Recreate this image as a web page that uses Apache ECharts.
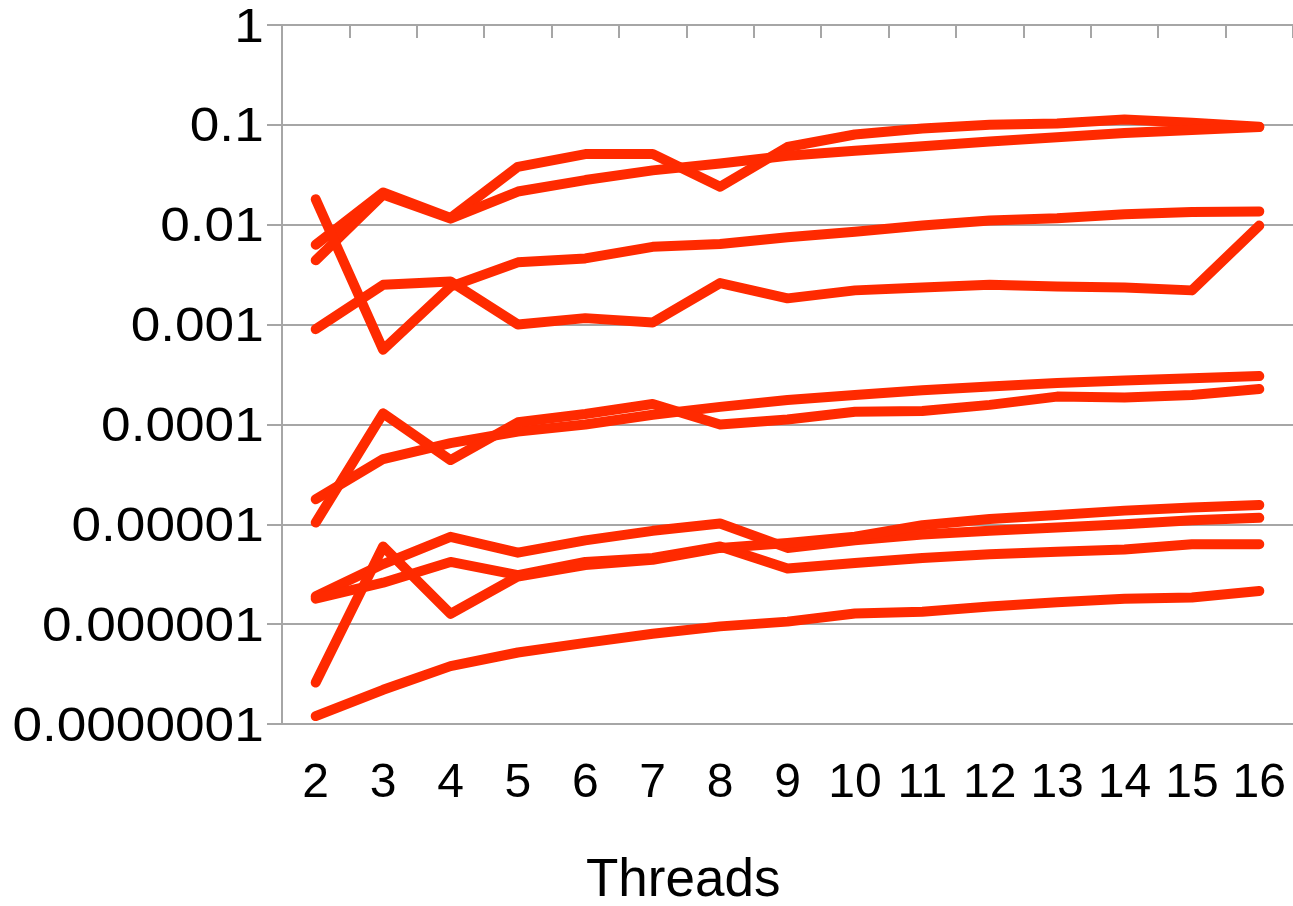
<!DOCTYPE html>
<html>
<head>
<meta charset="utf-8">
<script src="https://cdn.jsdelivr.net/npm/echarts@6/dist/echarts.min.js"></script>
<style>
html,body{margin:0;padding:0;background:#fff;}
#chart{width:1293px;height:906px;}
</style>
</head>
<body>
<div id="chart"></div>
<script>
const categories = ['2','3','4','5','6','7','8','9','10','11','12','13','14','15','16'];
const yTickValues = [1, 0.1, 0.01, 0.001, 0.0001, 0.00001, 0.000001, 0.0000001];
const yTickLabels = ['1','0.1','0.01','0.001','0.0001','0.00001','0.000001','0.0000001'];
const xTitle = 'Threads';

const seriesA = [0.0063, 0.021, 0.0117, 0.038, 0.051, 0.051, 0.024, 0.06, 0.08, 0.092, 0.1, 0.103, 0.113, 0.105, 0.096];
const seriesB = [0.0044, 0.02, 0.0115, 0.0215, 0.028, 0.035, 0.041, 0.049, 0.055, 0.061, 0.068, 0.075, 0.083, 0.089, 0.095];
const seriesC = [0.018, 0.00056, 0.0024, 0.0042, 0.0046, 0.006, 0.0064, 0.0075, 0.0085, 0.0098, 0.011, 0.0116, 0.0127, 0.0134, 0.0136];
const seriesD = [0.0009, 0.0025, 0.0027, 0.001, 0.00116, 0.00105, 0.0026, 0.00183, 0.0022, 0.00235, 0.0025, 0.0024, 0.00235, 0.0022, 0.0098];
const seriesF = [1.78e-5, 4.5e-5, 6.5e-5, 8.5e-5, 1.0e-4, 1.25e-4, 1.5e-4, 1.76e-4, 1.97e-4, 2.2e-4, 2.4e-4, 2.6e-4, 2.75e-4, 2.9e-4, 3.05e-4];
const seriesG = [1.04e-5, 1.29e-4, 4.4e-5, 1.05e-4, 1.27e-4, 1.6e-4, 1.0e-4, 1.12e-4, 1.34e-4, 1.36e-4, 1.57e-4, 1.9e-4, 1.86e-4, 1.97e-4, 2.26e-4];
const seriesH1 = [1.9e-6, 4.0e-6, 7.5e-6, 5.2e-6, 6.9e-6, 8.6e-6, 1.02e-5, 5.8e-6, 6.9e-6, 7.9e-6, 8.6e-6, 9.3e-6, 1.0e-5, 1.1e-5, 1.16e-5];
const seriesH2 = [1.8e-6, 2.6e-6, 4.2e-6, 3.1e-6, 4.2e-6, 4.6e-6, 6.0e-6, 3.6e-6, 4.1e-6, 4.6e-6, 5.0e-6, 5.3e-6, 5.6e-6, 6.3e-6, 6.3e-6];
const seriesJ = [2.6e-7, 6.0e-6, 1.27e-6, 3.0e-6, 3.9e-6, 4.4e-6, 5.8e-6, 6.5e-6, 7.5e-6, 9.8e-6, 1.13e-5, 1.24e-5, 1.37e-5, 1.47e-5, 1.56e-5];
const seriesK = [1.2e-7, 2.2e-7, 3.8e-7, 5.2e-7, 6.5e-7, 8.0e-7, 9.5e-7, 1.06e-6, 1.28e-6, 1.33e-6, 1.5e-6, 1.66e-6, 1.8e-6, 1.85e-6, 2.15e-6];

const allSeries = [seriesA, seriesB, seriesC, seriesD, seriesF, seriesG, seriesH1, seriesH2, seriesJ, seriesK];

const FONT = '"Liberation Sans", Arial, sans-serif';
const RED = '#ff2a00';
const GRAY = '#a6a6a6';

const chart = echarts.init(document.getElementById('chart'), null, {renderer: 'canvas'});
chart.setOption({
  animation: false,
  backgroundColor: '#fff',
  title: {
    text: xTitle,
    left: 581,
    top: 850,
    textStyle: {fontFamily: FONT, fontSize: 53, fontWeight: 'normal', color: '#000'}
  },
  grid: {left: 282, top: 25, width: 1014, height: 699, containLabel: false},
  xAxis: [
    {
      type: 'category',
      data: categories,
      position: 'bottom',
      boundaryGap: true,
      axisLine: {show: false},
      axisTick: {show: false},
      splitLine: {show: false},
      axisLabel: {interval: 0, margin: 36, fontFamily: FONT, fontSize: 48, color: '#000'}
    },
    {
      type: 'category',
      data: categories,
      position: 'top',
      boundaryGap: true,
      axisLine: {show: true, lineStyle: {color: GRAY, width: 2}},
      axisTick: {show: true, inside: true, length: 13, interval: 0, lineStyle: {color: GRAY, width: 2}},
      axisLabel: {show: false},
      splitLine: {show: false}
    }
  ],
  yAxis: {
    type: 'log',
    logBase: 10,
    min: 1e-7,
    max: 1,
    axisLine: {show: true, lineStyle: {color: GRAY, width: 2}},
    axisTick: {show: true, inside: false, length: 15, lineStyle: {color: GRAY, width: 2}},
    splitLine: {show: true, lineStyle: {color: GRAY, width: 2}},
    axisLabel: {show: false}
  },
  series: allSeries.map(function (d) {
    return {
      type: 'line',
      xAxisIndex: 0,
      data: d,
      showSymbol: false,
      symbol: 'none',
      lineStyle: {color: RED, width: 10, cap: 'round', join: 'round'},
      itemStyle: {color: RED}
    };
  })
});

// y-axis labels: slightly widened text placed at the axis scale positions
const labelRight = chart.convertToPixel({xAxisIndex: 0}, categories[0]) - 52;
chart.setOption({
  graphic: yTickValues.map(function (v, i) {
    const py = chart.convertToPixel({yAxisIndex: 0}, v);
    return {
      type: 'text',
      x: labelRight,
      y: py + 3,
      scaleX: 1.085,
      silent: true,
      style: {
        text: yTickLabels[i],
        font: '49px "Liberation Sans", Arial, sans-serif',
        fill: '#000',
        align: 'right',
        verticalAlign: 'middle'
      }
    };
  })
});
</script>
</body>
</html>
